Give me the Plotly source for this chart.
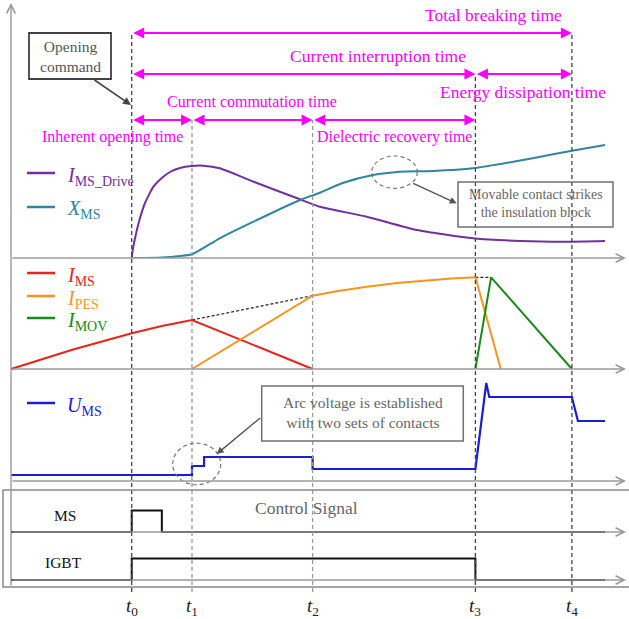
import plotly.graph_objects as go

W, H = 629, 619

# ---- time instants (arbitrary time units) ----
t_marks = [0.0, 1.0, 3.0, 5.7, 7.3]
t_names = ["<i>t</i><sub>0</sub>", "<i>t</i><sub>1</sub>", "<i>t</i><sub>2</sub>",
           "<i>t</i><sub>3</sub>", "<i>t</i><sub>4</sub>"]

# ---- panel 1: drive current and contact travel ----
drive_t = [0, 0.02, 0.055, 0.09, 0.138, 0.22, 0.36, 0.5, 0.635, 0.8, 0.995, 1.19,
           1.46, 2.02, 2.79, 3.12, 3.9, 4.73, 5.66, 6.44, 7.21, 7.85]
drive_v = [0, 0.09, 0.197, 0.29, 0.40, 0.55, 0.713, 0.80, 0.86, 0.90, 0.92, 0.923,
           0.897, 0.763, 0.587, 0.513, 0.413, 0.28, 0.197, 0.17, 0.163, 0.17]
xms_t = [0, 0.5, 0.8, 1.0, 1.46, 2.02, 2.79, 3.12, 3.5, 4.0, 4.45, 5.0, 5.66,
         6.65, 7.3, 7.85]
xms_v = [0, 0.005, 0.02, 0.037, 0.197, 0.363, 0.58, 0.653, 0.75, 0.83, 0.863,
         0.87, 0.897, 0.997, 1.073, 1.13]

# ---- panel 2: branch currents ----
ims_t = [-2, -1, 0, 0.5, 1, 3]
ims_v = [0, 0.19, 0.357, 0.43, 0.49, 0]
ipes_t = [1, 3, 3.4, 3.9, 4.4, 4.9, 5.3, 5.7, 6.12]
ipes_v = [0, 0.733, 0.778, 0.823, 0.86, 0.887, 0.905, 0.917, 0]
imov_t = [5.7, 5.96, 7.3]
imov_v = [0, 0.917, 0]
env1_t, env1_v = [1, 3], [0.49, 0.733]
env2_t, env2_v = [5.7, 5.96], [0.917, 0.917]

# ---- panel 3: switch voltage ----
ums_t = [-2, 1, 1, 1.2, 1.2, 3, 3, 5.7, 5.88, 5.93, 7.3, 7.4, 7.85]
ums_v = [0.06, 0.06, 0.15, 0.15, 0.24, 0.24, 0.12, 0.12, 0.98, 0.84, 0.84, 0.60, 0.60]

# ---- control signals ----
ms_t = [-2, 0, 0, 0.5, 0.5, 7.85]
ms_v = [0, 0, 1, 1, 0, 0]
igbt_t = [-2, 0, 0, 5.7, 5.7, 7.85]
igbt_v = [0, 0, 1, 1, 0, 0]

# ---- layout geometry ----
T0_PX, PXU = 131.7, 60.3          # pixel of t0, pixels per time unit
FONT = "Liberation Serif"
MAG = "#FF00FF"
C_DRIVE, C_XMS = "#7030A0", "#31859C"
C_IMS, C_IPES, C_IMOV = "#E8231C", "#F7941E", "#1A8A1A"
C_UMS = "#1C1CD0"


def px_x(px):
    return px / W


def px_y(py):
    return 1 - py / H


def band(top, base, unit, pad=6):
    return dict(domain=[px_y(base + pad), px_y(top)],
                range=[-pad / unit, (base - top) / unit],
                visible=False, anchor="x", fixedrange=True)


fig = go.Figure()


def line(x, y, ax, color, width=2, dash=None, shape="linear", smoothing=0.6):
    fig.add_trace(go.Scatter(x=x, y=y, yaxis=ax, mode="lines", showlegend=False,
                             hoverinfo="skip",
                             line=dict(color=color, width=width, dash=dash,
                                       shape=shape, smoothing=smoothing)))


line(drive_t, drive_v, "y", C_DRIVE, shape="spline", smoothing=0.5)
line(xms_t, xms_v, "y", C_XMS, shape="spline")
line(env1_t, env1_v, "y2", "#222", width=1.2, dash="3px,2px")
line(env2_t, env2_v, "y2", "#222", width=1.2, dash="3px,2px")
line(ims_t, ims_v, "y2", C_IMS)
line(ipes_t, ipes_v, "y2", C_IPES)
line(imov_t, imov_v, "y2", C_IMOV)
line(ums_t, ums_v, "y3", C_UMS, width=2.2)
line(ms_t, ms_v, "y4", "#111", width=2)
line(igbt_t, igbt_v, "y5", "#111", width=2)

shapes = []
ann = []

# dashed time markers
marker_tops = [33, 120, 120, 74, 33]
marker_cols = ["#444", "#9a9a9a", "#9a9a9a", "#444", "#444"]
for tm, top, col in zip(t_marks, marker_tops, marker_cols):
    shapes.append(dict(type="line", xref="x", yref="paper", x0=tm, x1=tm,
                       y0=px_y(592), y1=px_y(top),
                       line=dict(color=col, width=1.3, dash="4px,3px")))

# time labels
for tm, name in zip(t_marks, t_names):
    ann.append(dict(xref="x", yref="paper", x=tm, y=px_y(607), text=name,
                    showarrow=False, xanchor="center", yanchor="middle",
                    font=dict(family=FONT, size=19, color="#222")))


def arrow_px(x1, y1, x0, y0, color, width, head, both=False, size=1.0):
    """Arrow from pixel (x0,y0) to pixel (x1,y1)."""
    ann.append(dict(xref="paper", yref="paper", x=px_x(x1), y=px_y(y1),
                    axref="pixel", ayref="pixel", ax=x0 - x1, ay=y0 - y1,
                    text="", showarrow=True, arrowhead=head, arrowsize=size,
                    startarrowhead=head, startarrowsize=size,
                    arrowside="end+start" if both else "end",
                    arrowwidth=width, arrowcolor=color, standoff=0,
                    startstandoff=0))


def span_arrow(ta, tb, py):
    """Double-headed time-span arrow between two instants."""
    ann.append(dict(xref="x", yref="paper", x=tb, y=px_y(py),
                    axref="pixel", ayref="pixel", ax=-(tb - ta) * PXU, ay=0,
                    text="", showarrow=True, arrowhead=2, startarrowhead=2,
                    arrowsize=1.1, startarrowsize=1.1, arrowside="end+start",
                    arrowwidth=2, arrowcolor=MAG, standoff=0, startstandoff=0))


def text_px(x, y, s, size, color, anchor="center"):
    ann.append(dict(xref="paper", yref="paper", x=px_x(x), y=px_y(y), text=s,
                    showarrow=False, xanchor=anchor, yanchor="middle",
                    font=dict(family=FONT, size=size, color=color)))


# gray axes
AX_GRAY = "#9a9a9a"
arrow_px(11, 3, 11, 587, AX_GRAY, 1.4, 5, size=1.2)
for base in [258, 369, 481, 532, 580]:
    arrow_px(626, base, 11, base, AX_GRAY, 1.4, 5, size=1.2)

# time-span arrows
span_arrow(t_marks[0], t_marks[4], 33)
span_arrow(t_marks[0], t_marks[3], 74)
span_arrow(t_marks[3], t_marks[4], 74)
span_arrow(t_marks[0], t_marks[1], 120)
span_arrow(t_marks[1], t_marks[2], 120)
span_arrow(t_marks[2], t_marks[3], 120)

text_px(493, 15, "Total breaking time", 17.5, MAG)
text_px(378, 56, "Current interruption time", 17.5, MAG)
text_px(523, 92, "Energy dissipation time", 17.5, MAG)
text_px(251.7, 101, "Current commutation time", 16, MAG)
text_px(112.5, 137, "Inherent opening time", 16, MAG)
text_px(394, 137, "Dielectric recovery time", 16, MAG)

# opening command callout
shapes.append(dict(type="rect", xref="paper", yref="paper",
                   x0=px_x(29), x1=px_x(111), y0=px_y(79), y1=px_y(33),
                   line=dict(color="#404040", width=1.8)))
text_px(70, 56, "Opening<br>command", 15.5, "#555")
arrow_px(131, 105, 93, 79, "#444", 1.6, 2, size=1.0)

# contact strike callout
shapes.append(dict(type="circle", xref="paper", yref="paper",
                   x0=px_x(394.5 - 22.8), x1=px_x(394.5 + 22.8),
                   y0=px_y(172.2 + 16.2), y1=px_y(172.2 - 16.2),
                   line=dict(color="#777", width=1.2, dash="4px,3px")))
shapes.append(dict(type="rect", xref="paper", yref="paper",
                   x0=px_x(458), x1=px_x(613), y0=px_y(227), y1=px_y(182),
                   line=dict(color="#707070", width=1.5)))
text_px(536, 204, "Movable contact strikes<br>the insulation block", 14, "#666")
arrow_px(456.7, 203.3, 411.7, 182.7, "#555", 1.4, 2, size=1.0)

# arc voltage callout
shapes.append(dict(type="circle", xref="paper", yref="paper",
                   x0=px_x(196.7 - 24), x1=px_x(196.7 + 24),
                   y0=px_y(464 + 20.8), y1=px_y(464 - 20.8),
                   line=dict(color="#777", width=1.2, dash="4px,3px")))
shapes.append(dict(type="rect", xref="paper", yref="paper",
                   x0=px_x(261.7), x1=px_x(463.3), y0=px_y(441), y1=px_y(386),
                   line=dict(color="#707070", width=1.5)))
text_px(362.5, 413, "Arc voltage is established<br>with two sets of contacts", 15.5, "#666")
arrow_px(216.7, 454, 261.7, 416.7, "#555", 1.4, 2, size=1.0)

# control signal frame
shapes.append(dict(type="rect", xref="paper", yref="paper",
                   x0=px_x(3), x1=px_x(645), y0=px_y(587), y1=px_y(490),
                   line=dict(color="#888", width=1.5)))
text_px(306, 508, "Control Signal", 17.5, "#666")
text_px(65, 515, "MS", 15.5, "#111")
text_px(63.5, 562, "IGBT", 15.5, "#111")

# legends
legend_items = [
    (173, C_DRIVE, "<i>I</i><sub>MS_Drive</sub>"),
    (207, C_XMS, "<i>X</i><sub>MS</sub>"),
    (273, C_IMS, "<i>I</i><sub>MS</sub>"),
    (296, C_IPES, "<i>I</i><sub>PES</sub>"),
    (318, C_IMOV, "<i>I</i><sub>MOV</sub>"),
    (403, C_UMS, "<i>U</i><sub>MS</sub>"),
]
for py, col, name in legend_items:
    shapes.append(dict(type="line", xref="paper", yref="paper",
                       x0=px_x(27), x1=px_x(55), y0=px_y(py), y1=px_y(py),
                       line=dict(color=col, width=2.5)))
    text_px(65, py + 3, name, 20, col, anchor="left")

fig.update_layout(
    width=W, height=H, margin=dict(l=0, r=0, t=0, b=0),
    paper_bgcolor="white", plot_bgcolor="white",
    xaxis=dict(range=[-T0_PX / PXU, (W - T0_PX) / PXU], visible=False,
               domain=[0, 1], fixedrange=True),
    yaxis=band(120, 258, 100),
    yaxis2=band(258, 369, 100),
    yaxis3=band(369, 481, 100),
    yaxis4=band(500, 532, 21.5),
    yaxis5=band(548, 580, 21.5),
    shapes=shapes, annotations=ann,
)

fig.write_html("out.html", config={"displayModeBar": False})
